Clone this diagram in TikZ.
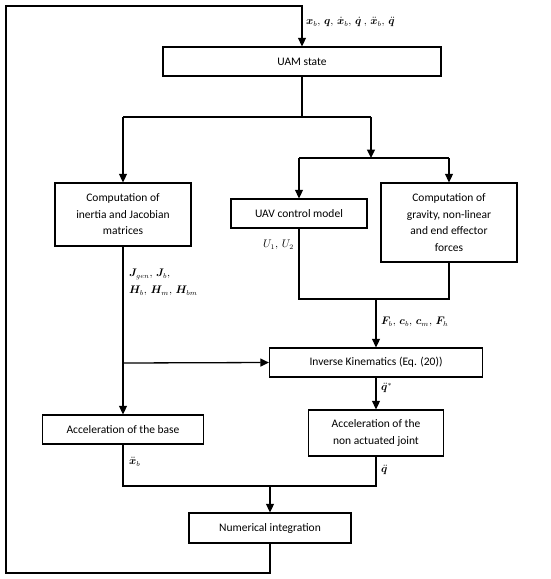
\documentclass[tikz,border=0pt]{standalone}
\usepackage{amsmath,bm}
\usepackage{fontspec}
\setmainfont{Carlito}
\usetikzlibrary{arrows.meta}
\begin{document}
\begin{tikzpicture}[x=1pt,y=-1pt,
  box/.style={draw,line width=1.3pt,align=center,inner sep=0pt,font=\fontsize{11.5}{16.5}\selectfont},
  conn/.style={line width=1.3pt},
  arr/.style={line width=1.3pt,-{Triangle[length=8.5pt,width=8pt]}},
  lbl/.style={inner sep=0pt,font=\fontsize{10.5}{12}\selectfont}]
\useasboundingbox (0,0) rectangle (550,579);
\node[box,minimum width=278pt,minimum height=29pt] (uam) at (302,61.5) {UAM state};
\node[box,minimum width=136pt,minimum height=63pt] (comp) at (123,214.5) {Computation of\\inertia and Jacobian\\matrices};
\node[box,minimum width=136pt,minimum height=29pt] (uav) at (299,213.5) {UAV control model};
\node[box,minimum width=136pt,minimum height=79pt] (grav) at (449,222.5) {Computation of\\gravity, non-linear\\and end effector\\forces};
\node[box,minimum width=213pt,minimum height=29pt] (ik) at (376,362.5) {Inverse Kinematics (Eq. (20))};
\node[box,minimum width=161pt,minimum height=29pt] (accb) at (123,429.5) {Acceleration of the base};
\node[box,minimum width=135pt,minimum height=46pt] (accq) at (376,433) {Acceleration of the\\non actuated joint};
\node[box,minimum width=162pt,minimum height=30pt] (num) at (270,528) {Numerical integration};
% junctions
\coordinate (j1) at (302,117);
\coordinate (j1l) at (123,117);
\coordinate (j1r) at (371,117);
\coordinate (j2) at (371,158);
\coordinate (j2l) at (299,158);
\coordinate (j2r) at (449,158);
\coordinate (j3l) at (299,299);
\coordinate (j3r) at (449,299);
\coordinate (j3) at (376,299);
\coordinate (jk) at (123,363);
\coordinate (j4l) at (123,486);
\coordinate (j4r) at (376,486);
\coordinate (j4) at (270,486);
\coordinate (lb) at (270,573);
\coordinate (lbl) at (6,573);
\coordinate (ltl) at (6,6);
\coordinate (lt) at (302,6);
% connectors
\draw[conn] (uam.south) -- (j1);
\draw[conn] (j1l) -- (j1r);
\draw[arr] (j1l) -- (comp.north);
\draw[arr] (j1r) -- (j2);
\draw[conn] (j2l) -- (j2r);
\draw[arr] (j2l) -- (uav.north);
\draw[arr] (j2r) -- (grav.north);
\draw[conn] (uav.south) -- (j3l) -- (j3r) -- (grav.south);
\draw[arr] (j3) -- (ik.north);
\draw[arr] (comp.south) -- (accb.north);
\draw[arr] (jk) -- (ik.west);
\draw[arr] (ik.south) -- (accq.north);
\draw[conn] (accb.south) -- (j4l) -- (j4r) -- (accq.south);
\draw[arr] (j4) -- (num.north);
\draw[arr] (num.south) -- (lb) -- (lbl) -- (ltl) -- (lt) -- (uam.north);
% labels
\node[lbl,anchor=west] (top) at (306,22) {$\bm{x}_b,\,\bm{q},\,\dot{\bm{x}}_b,\,\dot{\bm{q}}\ ,\,\ddot{\bm{x}}_b,\,\ddot{\bm{q}}$};
\node[lbl,anchor=east] (u) at (294,245) {$U_1,\,U_2$};
\node[lbl,anchor=west,align=left] (jl) at (129,282.5) {$\bm{J}_{gen},\,\bm{J}_b,$\\[5pt]$\bm{H}_b,\,\bm{H}_m,\,\bm{H}_{bm}$};
\node[lbl,anchor=west] (fl) at (381,322) {$\bm{F}_b,\,\bm{c}_b,\,\bm{c}_m,\,\bm{F}_h$};
\node[lbl,anchor=west] (ql) at (381,388) {$\ddot{\bm{q}}^{*}$};
\node[lbl,anchor=west] (xl) at (129,462) {$\ddot{\bm{x}}_b$};
\node[lbl,anchor=west] (qq) at (381,470) {$\ddot{\bm{q}}$};
\end{tikzpicture}
\end{document}
